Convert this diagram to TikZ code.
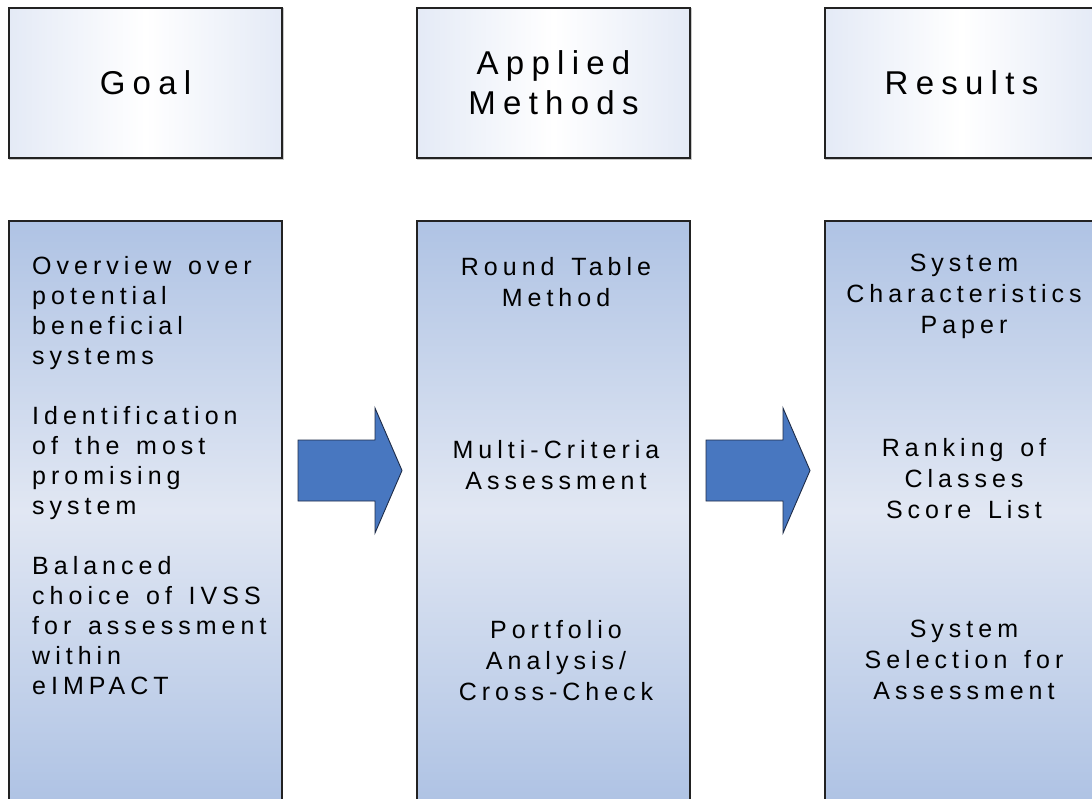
\documentclass[tikz,border=0pt]{standalone}
\usepackage{fontspec}
\setmainfont{Liberation Sans}
\newfontfamily\bodyfont{Liberation Sans}[LetterSpace=20,WordSpace=1.4]
\newfontfamily\headfont{Liberation Sans}[LetterSpace=22,WordSpace=1.4]
\definecolor{boxline}{HTML}{222222}
\definecolor{edgeblue}{HTML}{E4EAF6}
\definecolor{topblue}{HTML}{AFC3E4}
\definecolor{midblue}{HTML}{E1E7F3}
\definecolor{arrowfill}{HTML}{4877C0}
\definecolor{arrowline}{HTML}{1E2C48}
\definecolor{shadowgray}{HTML}{C8C8C8}
\begin{document}
\begin{tikzpicture}[x=1pt,y=-1pt,
  headbox/.style={draw=boxline, line width=1.2pt, minimum width=273pt, minimum height=150pt,
    inner sep=0pt, left color=edgeblue, right color=edgeblue, middle color=white,
    align=center, font=\headfont\fontsize{33}{40}\selectfont},
  headshadow/.style={draw=shadowgray, line width=1.2pt, minimum width=273pt, minimum height=150pt, inner sep=0pt},
  colbox/.style={draw=boxline, line width=1.2pt, minimum width=273pt, minimum height=579pt,
    inner sep=0pt, top color=topblue, bottom color=topblue, middle color=midblue},
  coltext/.style={inner sep=0pt, font=\bodyfont\fontsize{25}{31}\selectfont},
  bigarrow/.style={fill=arrowfill, draw=arrowline, line width=0.9pt, line join=miter}]
\useasboundingbox (0,0) rectangle (1092,798);
\clip (0,0) rectangle (1092,798);
\fill[white] (0,0) rectangle (1092,798);

% header boxes (with faint shadow)
\node[headshadow] (goalsh) at (146.5,84) {};
\node[headshadow] (methsh) at (554.5,84) {};
\node[headshadow] (ressh)  at (962.5,84) {};
\node[headbox] (goalhead) at (145.5,83) {Goal};
\node[headbox] (methhead) at (553.5,83) {Applied\\Methods};
\node[headbox] (reshead)  at (961.5,83) {Results};

% column boxes
\node[colbox] (goalcol) at (145.5,510.5) {};
\node[colbox] (methcol) at (553.5,510.5) {};
\node[colbox] (rescol)  at (961.5,510.5) {};

% left column text
\node[coltext, anchor=north west, align=left, font=\bodyfont\fontsize{25}{30}\selectfont]
  (goaltext) at (32,256) {Overview over\\potential\\beneficial\\systems\\[30pt]Identification\\of the most\\promising\\system\\[30pt]Balanced\\choice of IVSS\\for assessment\\within\\eIMPACT};

% middle column text
\node[coltext, anchor=north, align=center] (m1) at (556,257) {Round Table\\Method};
\node[coltext, anchor=north, align=center] (m2) at (556,440) {Multi-Criteria\\Assessment};
\node[coltext, anchor=north, align=center] (m3) at (556,620) {Portfolio\\Analysis/\\Cross-Check};

% right column text
\node[coltext, anchor=north, align=center] (r1) at (964,254) {System\\Characteristics\\Paper};
\node[coltext, anchor=north, align=center] (r2) at (964,438) {Ranking of\\Classes\\Score List};
\node[coltext, anchor=north, align=center] (r3) at (964,620) {System\\Selection for\\Assessment};

% block arrows
\filldraw[bigarrow] (298,440) -- (375,440) -- (375,408) -- (402,470.5) -- (375,533) -- (375,501) -- (298,501) -- cycle;
\filldraw[bigarrow] (706,440) -- (783,440) -- (783,408) -- (810,470.5) -- (783,533) -- (783,501) -- (706,501) -- cycle;
\end{tikzpicture}
\end{document}
